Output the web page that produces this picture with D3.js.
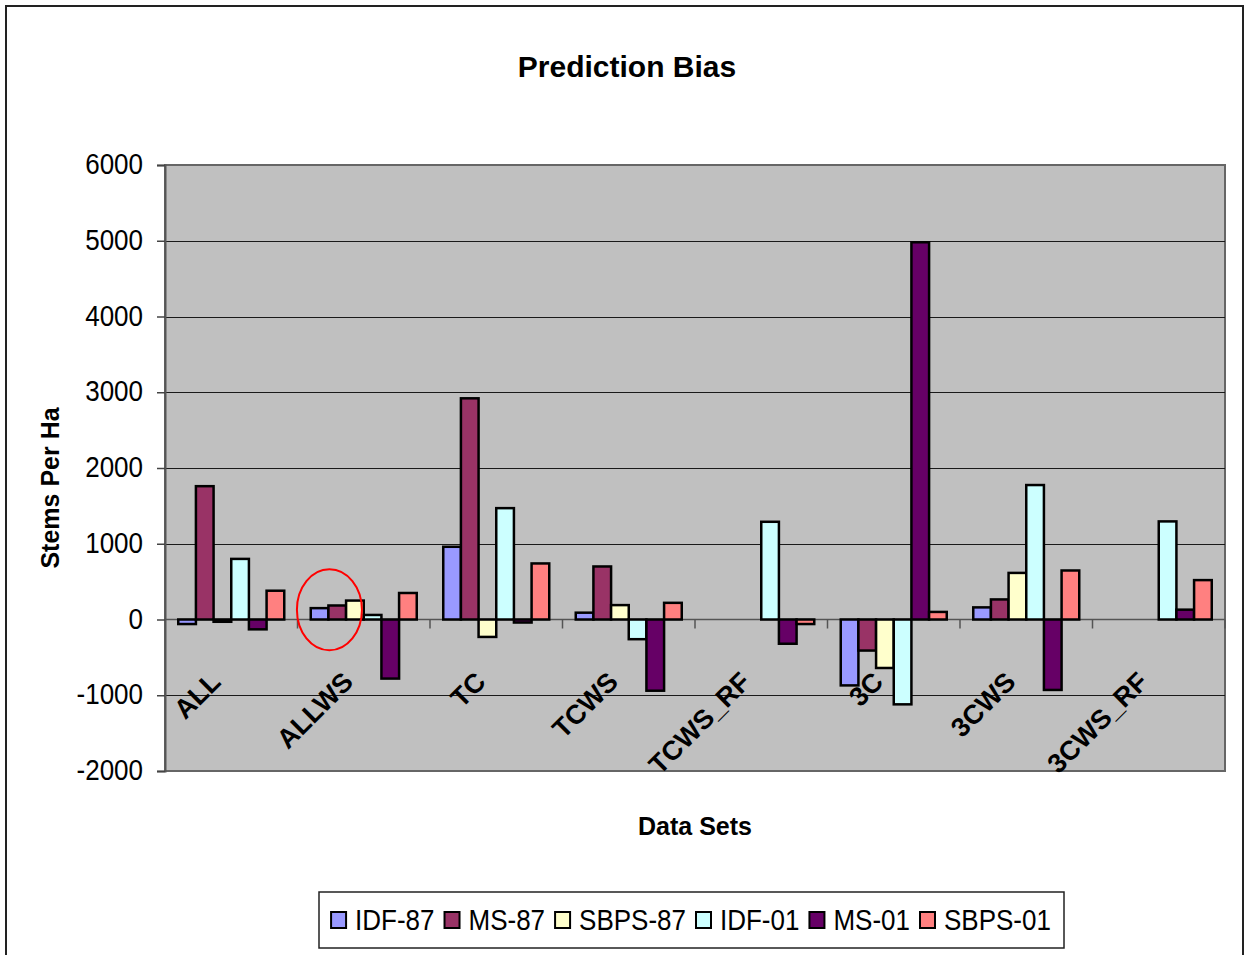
<!DOCTYPE html>
<html>
<head>
<meta charset="utf-8">
<script src="https://cdn.jsdelivr.net/npm/d3@7"></script>
<style>
  html, body { margin: 0; padding: 0; background: #fff; }
  svg text { font-family: "Liberation Sans", Arial, sans-serif; fill: #000; }
</style>
</head>
<body>
<svg id="chart" width="1249" height="955"></svg>
<script>
// ---- data ----
const categories = ["ALL", "ALLWS", "TC", "TCWS", "TCWS_RF", "3C", "3CWS", "3CWS_RF"];
const seriesNames = ["IDF-87", "MS-87", "SBPS-87", "IDF-01", "MS-01", "SBPS-01"];
const seriesColors = ["#9999FF", "#993366", "#FFFFCC", "#CCFFFF", "#660066", "#FF8080"];
const idf87  = [-60, 150, 960, 90, null, -870, 160, null];
const ms87   = [1760, 185, 2920, 700, null, -410, 265, null];
const sbps87 = [-30, 250, -230, 190, null, -640, 615, null];
const idf01  = [800, 60, 1470, -260, 1290, -1120, 1775, 1295];
const ms01   = [-130, -780, -40, -940, -320, 4980, -930, 130];
const sbps01 = [380, 350, 740, 220, -60, 100, 647, 520];
const seriesValues = [idf87, ms87, sbps87, idf01, ms01, sbps01];
const yTicks = [-2000, -1000, 0, 1000, 2000, 3000, 4000, 5000, 6000];
const titleText = "Prediction Bias";
const yTitle = "Stems Per Ha";
const xTitle = "Data Sets";

// ---- layout ----
const svg = d3.select("#chart");
const plot = { left: 165, right: 1225, top: 165, bottom: 771 };
const FONT = '"Liberation Sans", Arial, sans-serif';

// outer chart border
svg.append("rect").attr("x", 6).attr("y", 6).attr("width", 1237).attr("height", 960)
  .attr("fill", "#fff").attr("stroke", "#222").attr("stroke-width", 2);

const x = d3.scaleBand().domain(categories).range([plot.left, plot.right]).padding(0);
const xs = d3.scaleBand().domain(seriesNames).range([0, x.bandwidth()])
  .paddingInner(0).paddingOuter(0.75);
const y = d3.scaleLinear().domain([-2000, 6000]).range([plot.bottom, plot.top]);

// plot background
svg.append("rect").attr("x", plot.left).attr("y", plot.top)
  .attr("width", plot.right - plot.left).attr("height", plot.bottom - plot.top)
  .attr("fill", "#C0C0C0").attr("stroke", "#666").attr("stroke-width", 2);

// gridlines
svg.append("g").selectAll("line").data(yTicks.filter(d => d !== -2000 && d !== 6000 && d !== 0))
  .join("line")
  .attr("x1", plot.left).attr("x2", plot.right)
  .attr("y1", d => Math.round(y(d)) + 0.5).attr("y2", d => Math.round(y(d)) + 0.5)
  .attr("stroke", "#1a1a1a").attr("stroke-width", 1.2);

// y axis
const yAxis = svg.append("g").attr("transform", `translate(${plot.left},0)`)
  .call(d3.axisLeft(y).tickValues(yTicks).tickSize(8).tickFormat(d => String(d)));
yAxis.select(".domain").attr("stroke", "#555").attr("stroke-width", 2);
yAxis.selectAll(".tick line").attr("stroke", "#444").attr("stroke-width", 1.5);
yAxis.selectAll(".tick text")
  .attr("x", 0).attr("dy", null)
  .attr("transform", "translate(-22,8.5) scale(1,1.16)")
  .style("font-family", FONT).style("font-size", "26px").attr("fill", "#000");

// zero line & category boundary ticks
const y0 = y(0);
svg.append("line").attr("x1", plot.left).attr("x2", plot.right)
  .attr("y1", y0).attr("y2", y0).attr("stroke", "#555").attr("stroke-width", 1.5);
svg.append("g").selectAll("line").data(categories.slice(1).concat(["__end"]))
  .join("line")
  .attr("x1", d => d === "__end" ? plot.right : x(d))
  .attr("x2", d => d === "__end" ? plot.right : x(d))
  .attr("y1", y0).attr("y2", y0 + 9)
  .attr("stroke", "#555").attr("stroke-width", 1.5);

// bars
const barData = [];
seriesNames.forEach((s, si) => {
  categories.forEach((c, ci) => {
    const v = seriesValues[si][ci];
    if (v !== null) barData.push({ s, si, c, v });
  });
});
svg.append("g").selectAll("rect").data(barData).join("rect")
  .attr("x", d => x(d.c) + xs(d.s))
  .attr("width", xs.bandwidth())
  .attr("y", d => y(Math.max(0, d.v)))
  .attr("height", d => Math.abs(y(d.v) - y(0)))
  .attr("fill", d => seriesColors[d.si])
  .attr("stroke", "#000").attr("stroke-width", 2.5);

// category labels
svg.append("g").selectAll("text").data(categories).join("text")
  .attr("transform", d => `translate(${x(d) + x.bandwidth() / 2 - 9},${y0 + 64}) rotate(-45)`)
  .attr("text-anchor", "end")
  .style("font-size", "27px").style("font-weight", "bold")
  .text(d => d);

// red ellipse annotation (around ALLWS first bars)
svg.append("ellipse")
  .attr("cx", x("ALLWS") + xs("IDF-87") + xs.bandwidth() + 1)
  .attr("cy", y(130))
  .attr("rx", 32.5).attr("ry", 40.5)
  .attr("fill", "none").attr("stroke", "#FF0000").attr("stroke-width", 2);

// titles
svg.append("text").attr("x", 627).attr("y", 77).attr("text-anchor", "middle")
  .style("font-size", "30px").style("font-weight", "bold").text(titleText);
svg.append("text").attr("transform", "translate(59,488) rotate(-90) scale(1,1.05)")
  .attr("text-anchor", "middle")
  .style("font-size", "25px").style("font-weight", "bold").text(yTitle);
svg.append("text").attr("transform", "translate(695,835) scale(1,1.05)").attr("text-anchor", "middle")
  .style("font-size", "25px").style("font-weight", "bold").text(xTitle);

// legend
const legend = svg.append("g");
legend.append("rect").attr("x", 319).attr("y", 892)
  .attr("width", 745).attr("height", 56)
  .attr("fill", "#fff").attr("stroke", "#222").attr("stroke-width", 1.5);
const items = legend.append("g");
let cx = 0;
seriesNames.forEach((s, i) => {
  const g = items.append("g").attr("transform", `translate(${cx},0)`);
  g.append("rect").attr("x", 0).attr("y", -8).attr("width", 15).attr("height", 16)
    .attr("fill", seriesColors[i]).attr("stroke", "#000").attr("stroke-width", 2);
  const t = g.append("text").attr("transform", "translate(24,10) scale(1,1.12)")
    .style("font-size", "26px").text(s);
  const w = t.node().getComputedTextLength();
  cx += 24 + w + 10;
});
const totalW = cx - 10;
items.attr("transform", `translate(${691 - totalW / 2},${920})`);
</script>
</body>
</html>
